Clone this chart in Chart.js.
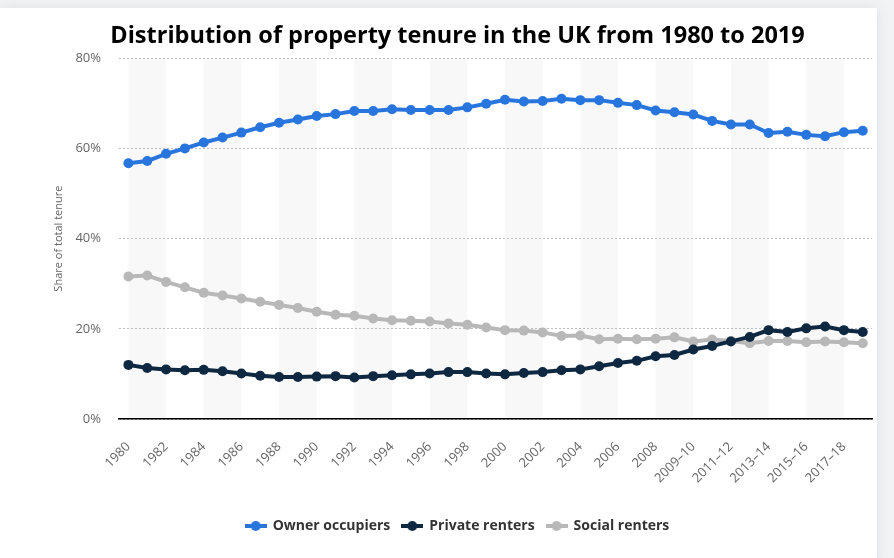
<!DOCTYPE html>
<html>
<head>
<meta charset="utf-8">
<script src="https://cdn.jsdelivr.net/npm/chart.js@4.4.1/dist/chart.umd.min.js"></script>
<style>
  html,body{margin:0;padding:0;background:#f2f3f5;width:894px;height:558px;overflow:hidden;}
  .card{position:absolute;left:0;top:8px;width:877px;height:560px;background:#fff;box-shadow:0 0 14px rgba(0,0,0,0.08);}
  #wrap{position:absolute;left:0;top:0;width:894px;height:558px;}
</style>
</head>
<body>
<div class="card"></div>
<div id="wrap"><canvas id="chart"></canvas></div>
<script>
const YEARS = ['1980','1981','1982','1983','1984','1985','1986','1987','1988','1989',
  '1990','1991','1992','1993','1994','1995','1996','1997','1998','1999',
  '2000','2001','2002','2003','2004','2005','2006','2007','2008',
  '2008–09','2009–10','2010–11','2011–12','2012–13','2013–14','2014–15',
  '2015–16','2016–17','2017–18','2018–19'];

const OWNER = [56.7,57.2,58.8,60.0,61.3,62.4,63.5,64.7,65.7,66.4,
  67.2,67.6,68.3,68.3,68.7,68.5,68.5,68.5,69.1,69.9,
  70.8,70.4,70.5,71.0,70.7,70.7,70.1,69.6,68.4,68.0,
  67.5,66.1,65.3,65.3,63.4,63.7,63.0,62.7,63.6,63.9];

const PRIVATE = [12.0,11.3,11.0,10.8,10.9,10.6,10.1,9.6,9.3,9.3,
  9.4,9.5,9.2,9.5,9.7,9.9,10.1,10.4,10.4,10.1,
  9.9,10.2,10.4,10.8,11.0,11.7,12.4,12.9,13.9,14.2,
  15.4,16.2,17.2,18.2,19.7,19.3,20.1,20.5,19.7,19.3];

const SOCIAL = [31.6,31.8,30.4,29.2,28.0,27.4,26.7,26.0,25.3,24.6,
  23.8,23.1,22.9,22.3,21.9,21.8,21.6,21.2,20.9,20.3,
  19.7,19.6,19.2,18.4,18.5,17.7,17.8,17.7,17.8,18.1,
  17.2,17.6,17.3,16.8,17.3,17.3,17.0,17.2,17.0,16.8];

const Y_TICKS = [0,20,40,60,80];

const COLORS = {owner:'#2876dd', priv:'#0e2841', social:'#b8b8b8'};

// little "line with dot" symbol used in the legend
function legendIcon(color){
  const c = document.createElement('canvas');
  c.width = 22; c.height = 12;
  const g = c.getContext('2d');
  g.strokeStyle = color; g.lineWidth = 4;
  g.beginPath(); g.moveTo(0,6); g.lineTo(22,6); g.stroke();
  g.fillStyle = color;
  g.beginPath(); g.arc(11,6,5,0,Math.PI*2); g.fill();
  return c;
}

// alternating column bands behind the grid
const bands = {
  id:'bands',
  beforeDraw(chart){
    const {ctx, chartArea:a, scales:{x}} = chart;
    ctx.save();
    ctx.fillStyle = '#f8f8f8';
    for(let i=0;i+2<YEARS.length;i+=4){
      const x0 = x.getPixelForValue(i), x1 = x.getPixelForValue(i+2);
      ctx.fillRect(x0, a.top, x1-x0, a.bottom-a.top);
    }
    ctx.restore();
  }
};

const mkSet = (label,data,color)=>({
  label, data,
  borderColor:color, backgroundColor:color,
  borderWidth:4, pointRadius:5, pointHoverRadius:6,
  pointBorderWidth:0, tension:0, pointStyle:'circle'
});

new Chart(document.getElementById('chart'),{
  type:'line',
  data:{
    labels:YEARS,
    datasets:[
      mkSet('Owner occupiers',OWNER,COLORS.owner),
      mkSet('Private renters',PRIVATE,COLORS.priv),
      mkSet('Social renters',SOCIAL,COLORS.social)
    ]
  },
  options:{
    responsive:true,
    maintainAspectRatio:false,
    animation:false,
    layout:{padding:{left:40,right:19,top:0,bottom:15}},
    plugins:{
      title:{
        display:true,
        text:'Distribution of property tenure in the UK from 1980 to 2019',
        color:'#000',
        font:{family:'Open Sans',size:23.5,weight:'bold'},
        padding:{top:22,bottom:8}
      },
      legend:{
        position:'bottom',
        labels:{
          usePointStyle:true,
          pointStyleWidth:20,
          color:'#333',
          font:{family:'Open Sans',size:14,weight:'bold'},
          padding:12,
          generateLabels:chart=>{
            const items = Chart.defaults.plugins.legend.labels.generateLabels(chart);
            items.forEach(it=>{ it.pointStyle = legendIcon(chart.data.datasets[it.datasetIndex].borderColor); });
            return items;
          }
        }
      },
      tooltip:{enabled:false}
    },
    scales:{
      x:{
        offset:true,
        grid:{display:false,drawTicks:false},
        border:{display:true,color:'#000',width:1.5},
        ticks:{
          autoSkip:false,maxRotation:45,minRotation:45,padding:20,
          color:'#666',font:{family:'Open Sans',size:13},
          callback:(v,i)=> i%2===0 ? YEARS[i] : ''
        },
        afterFit:s=>{s.height = 88;}
      },
      y:{
        min:0,max:80,
        afterBuildTicks:s=>{s.ticks = Y_TICKS.map(v=>({value:v}));},
        grid:{color:'#bdbdbd',drawTicks:false,lineWidth:1,borderDash:[2,2]},
        border:{display:false,dash:[2,2]},
        ticks:{
          padding:18,color:'#666',font:{family:'Open Sans',size:13},
          callback:v=>v+'%'
        },
        title:{
          display:true,text:'Share of total tenure',color:'#666',
          font:{family:'Open Sans',size:11},padding:{top:12,bottom:0}
        },
        afterFit:s=>{s.width = 79;}
      }
    }
  },
  plugins:[bands]
});
</script>
</body>
</html>
